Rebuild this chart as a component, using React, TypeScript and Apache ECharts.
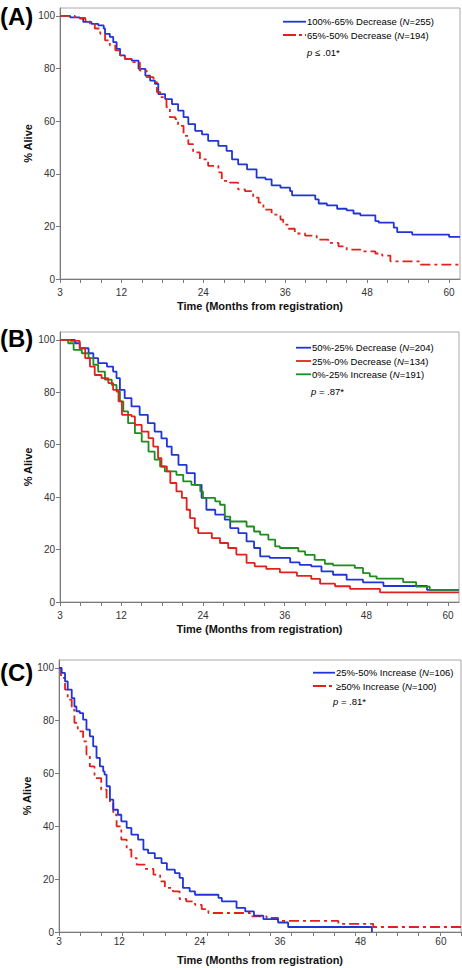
import React, { useEffect, useRef } from "react";
import * as echarts from "echarts";

// ---------- DATA ----------
const xTickLabels = [3, 12, 24, 36, 48, 60];
const yTickLabels = [0, 20, 40, 60, 80, 100];

// Panel A
const aBlue: number[][] = [[3,100],[4.5,99.4],[5.9,99],[6.4,97.7],[7.6,97],[8.6,96.4],[9.4,95.2],[9.6,93.2],[10.3,92],[10.8,90],[11.3,87.5],[11.8,85],[12.5,83.7],[13.5,83],[14.5,79.9],[15.5,77.3],[16.2,75.4],[16.9,74.2],[17.4,70.3],[18.4,68.4],[19.4,66.5],[20.3,64],[21.1,61.5],[21.8,58.9],[22.8,56.3],[23.8,55],[24.7,52.5],[26.2,50.6],[27.4,48.7],[28.2,45.5],[29.1,43.6],[30.4,41.7],[31.8,38.5],[33.1,37.9],[34,35.6],[35.3,34.7],[36.7,33.4],[37,31.8],[40.4,30.3],[40.9,28.7],[42.1,28],[43.6,26.7],[45,26.1],[46,24.9],[47,24.2],[49.2,22],[49.7,21.4],[51.9,19.5],[52.4,17.8],[54.6,16.9],[60,16],[61.6,16]];
const aRed: number[][] = [[3,100],[5.2,99.2],[6.7,98.3],[7.4,97],[8.1,95.2],[8.9,93.2],[9.6,90.7],[10.3,88.8],[11.1,86.9],[11.8,85],[12.5,83.7],[13.7,82.4],[14.7,79.2],[15.7,76.7],[16.7,74.8],[17.2,71],[17.7,69.1],[18.6,65.3],[19.1,61.5],[19.9,60.8],[20.3,58.2],[21.1,54.4],[21.8,51.3],[22.5,48.1],[23.5,45.5],[24.7,43],[26.2,40.5],[26.7,37.3],[27.9,36.6],[29.1,34.1],[30.1,33.4],[31.3,30.9],[32.1,29],[32.8,26.4],[34,24.5],[35.3,22.6],[35.7,20.7],[36.5,19.1],[37.4,17.3],[38.9,16.5],[40.6,15],[42.3,13.7],[43.8,12.4],[45,11.2],[47,10.5],[49.2,9.7],[50.2,8.9],[51.4,6.7],[55.8,5.5],[61.6,5.3]];

// Panel B
const bBlue: number[][] = [[3,100],[5.2,98.7],[5.9,96.8],[7.2,94.9],[7.9,93],[8.6,91.1],[9.9,89.8],[10.8,87.9],[11.3,85.4],[11.8,80.9],[12.5,77.8],[13.5,74.6],[14.7,71.4],[15.9,68.2],[16.9,65],[17.9,62.4],[18.7,59.3],[19.4,56.1],[20.4,52.3],[21.6,49.2],[22.8,44.7],[23.8,39.7],[24.5,35.2],[25.8,33.3],[27.2,31.4],[28,28.2],[29.2,26.3],[30.4,23.1],[31.5,20.6],[32.4,17.4],[33.8,16.8],[36.8,15.1],[38.2,14.2],[39.9,13.6],[41.4,11.7],[43.1,10.4],[45.1,8.5],[47.5,7.5],[50.5,6.1],[56.9,4.6],[61.6,4.6]];
const bRed: number[][] = [[3,100],[4.5,99.6],[5.9,96.8],[6.7,93],[7.4,89.8],[8.1,86.6],[9.1,85.4],[10.1,83.5],[10.8,80.9],[11.6,76.5],[12.1,71.4],[13.5,70.8],[14,67.6],[15,65],[16,62.5],[16.7,59.3],[17.4,54.9],[17.9,51.7],[18.7,49.8],[19.2,45.4],[20.1,42.2],[20.9,39.7],[21.6,35.2],[22.1,32],[22.8,28.2],[23.3,26.3],[25.3,24.4],[26.5,22.5],[27.7,20.6],[28.9,18.1],[30.4,14.9],[31.6,13.6],[33.3,12.6],[35.3,11.3],[37.8,10],[39.9,8.8],[41.2,7],[43.4,6],[45.6,5],[50,3.7],[61.6,3.7]];
const bGreen: number[][] = [[3,100],[4.2,98.7],[5,96.2],[6.2,94.9],[7.2,93],[7.9,90.5],[8.6,87.9],[9.6,84.8],[10.6,82.8],[11.3,80.3],[11.8,76.5],[12.3,72.7],[13,68.2],[14,64.4],[15,61.2],[16,57.4],[16.9,54.3],[17.7,51.7],[18.4,49.8],[20.1,48.5],[21.1,46],[22.3,44.7],[23.6,42.2],[24,39.7],[25.8,38.4],[26.5,37.1],[27.2,32.6],[28,30.7],[30.4,28.8],[31.5,26.9],[32.4,25.7],[33.6,23.8],[34.6,21.2],[35.3,20.6],[38,19.3],[39,18],[40.4,16.1],[41.9,14.6],[43.1,14],[46.3,13],[47.5,11],[48.5,9.8],[49.5,8.9],[53.4,7.6],[55.3,5.9],[57.3,4.6],[61.6,4.6]];

// Panel C
const cBlue: number[][] = [[3,100],[3.4,98.1],[3.9,94.9],[4.3,91.8],[4.9,88.6],[5.3,85.4],[5.6,83.6],[6.1,82.9],[6.6,80.4],[7.1,76.6],[7.6,74.1],[8.1,70.3],[8.6,65.9],[9.1,62.7],[9.6,60.8],[9.8,59.6],[10.1,55.2],[10.6,50.1],[11.1,46.3],[11.8,44.4],[12.3,41.9],[13.1,39.4],[13.8,36.9],[14.8,35],[15.6,31.2],[16.3,29.9],[17.3,28],[18.3,26.1],[19.1,23.6],[20.3,22.3],[21,20.5],[21.5,16.7],[22.5,15.4],[23.3,14.1],[26.8,12.9],[27.3,11.6],[29.5,9.1],[30.8,7.8],[32.1,6.2],[33.5,4.9],[35.7,3.6],[37.2,1.9],[49.7,0]];
const cRed: number[][] = [[3,100],[3.3,96.2],[3.9,91.8],[4.3,88],[4.9,84.2],[5.3,79.2],[5.8,76],[6.6,72.2],[7.1,67.2],[7.6,62.7],[8.3,58.3],[9.3,53.9],[10.1,50.1],[10.6,48.9],[11.1,44.4],[11.6,40],[12.3,35],[13.1,31.2],[13.8,28],[14.6,25.5],[15.8,23.9],[17.1,21.7],[18.1,19.2],[18.8,16.7],[20,15.4],[21,12.5],[22,11.6],[23.3,10.3],[24.3,8.7],[25.3,7.2],[31.5,5.9],[34,5.3],[35.7,4.2],[44.7,3.1],[49.9,1.9],[63,1.9]];

const legendA = [["100%-65% Decrease (", "=255)"], ["65%-50% Decrease (", "=194)"]];
const legendB = [["50%-25% Decrease (", "=204)"], ["25%-0% Decrease (", "=134)"], ["0%-25% Increase (", "=191)"]];
const legendC = [["25%-50% Increase (", "=106)"], ["\u226550% Increase (", "=100)"]];
const pTexts = [" \u2264 .01*", " = .87*", " = .81*"];
const panelLetters = ["(A)", "(B)", "(C)"];
const xTitle = "Time (Months from registration)";
const yTitle = "% Alive";

// ---------- STYLE ----------
const FONT = "'Liberation Sans', Arial, Helvetica, sans-serif";
const BLUE = "#1f35d8";
const RED = "#e3211c";
const GREEN = "#1e8c1e";
const DASH = [10, 4, 3, 4];
const AXIS_COLOR = "#7a7a7a";
const LABEL_COLOR = "#333";

export default function App() {
  const ref = useRef<HTMLDivElement>(null);

  useEffect(() => {
    document.body.style.margin = "0";
    const chart = echarts.init(ref.current!, null, { renderer: "svg" });

    const grids = [
      { left: 60, top: 8, width: 400, height: 271 },
      { left: 60, top: 332, width: 399, height: 270 },
      { left: 59, top: 660, width: 402, height: 272 },
    ].map((g) => ({ ...g, show: true, borderColor: "#a8a8a8", borderWidth: 1, backgroundColor: "transparent" }));

    const xFmt = (v: number) => (xTickLabels.includes(Math.round(v * 1000) / 1000) ? String(v) : "");
    const yFmt = (v: number) => (yTickLabels.includes(v) ? String(v) : "");

    const mkX = (gi: number, max: number, ticks: boolean, margin: number, gap: number) => ({
      type: "value",
      gridIndex: gi,
      min: 3,
      max,
      interval: 3,
      axisLine: { show: true, onZero: false, lineStyle: { color: AXIS_COLOR, width: 1 } },
      axisTick: { show: ticks, length: 4, lineStyle: { color: AXIS_COLOR } },
      axisLabel: { formatter: xFmt, fontSize: 10, color: LABEL_COLOR, fontFamily: FONT, margin, showMaxLabel: false, showMinLabel: true },
      splitLine: { show: false },
      name: xTitle,
      nameLocation: "middle",
      nameGap: gap,
      nameMoveOverlap: false,
      nameTextStyle: { fontSize: 11, fontWeight: "bold", color: "#111", fontFamily: FONT },
    });

    const mkY = (gi: number) => ({
      type: "value",
      gridIndex: gi,
      min: 0,
      max: 103,
      interval: 20,
      axisLine: { show: true, lineStyle: { color: AXIS_COLOR, width: 1 } },
      axisTick: { show: true, length: 4, lineStyle: { color: AXIS_COLOR } },
      axisLabel: { formatter: yFmt, fontSize: 10, color: LABEL_COLOR, fontFamily: FONT, margin: 5, showMaxLabel: false },
      splitLine: { show: false },
      name: yTitle,
      nameLocation: "middle",
      nameGap: 27,
      nameMoveOverlap: false,
      nameTextStyle: { fontSize: 11, fontWeight: "bold", color: "#111", fontFamily: FONT },
    });

    const xAxes: any[] = [mkX(0, 61.6, true, 8, 21), mkX(1, 61.6, true, 8, 21), mkX(2, 63, false, 4, 22)];
    // tick-only axis for panel C (its ticks are spaced independently of its labels)
    xAxes.push({
      type: "value",
      gridIndex: 2,
      position: "bottom",
      min: 0,
      max: 19,
      interval: 1,
      axisLine: { show: false },
      axisTick: { show: true, length: 4, lineStyle: { color: AXIS_COLOR } },
      axisLabel: { show: false },
      splitLine: { show: false },
    });

    const line = (name: string, data: number[][], xi: number, yi: number, color: string, dashed: boolean) => ({
      type: "line",
      name,
      data,
      xAxisIndex: xi,
      yAxisIndex: yi,
      step: "end",
      showSymbol: false,
      symbol: "none",
      lineStyle: { color, width: 1.8, type: dashed ? DASH : "solid" },
      z: 3,
    });

    const series = [
      line("A blue", aBlue, 0, 0, BLUE, false),
      line("A red", aRed, 0, 0, RED, true),
      line("B blue", bBlue, 1, 1, BLUE, false),
      line("B green", bGreen, 1, 1, GREEN, false),
      line("B red", bRed, 1, 1, RED, false),
      line("C red", cRed, 2, 2, RED, true),
      line("C blue", cBlue, 2, 2, BLUE, false),
    ];

    const rich = {
      a: { fontSize: 9.5, fontFamily: FONT, color: "#222" },
      i: { fontSize: 9.5, fontFamily: FONT, color: "#222", fontStyle: "italic" },
    };

    const legendItems = (
      items: string[][],
      colors: string[],
      dashes: boolean[],
      x1: number,
      x2: number,
      ys: number[],
      tx: number,
      p: string,
      px: number,
      py: number
    ) => {
      const els: any[] = [];
      items.forEach((it, k) => {
        els.push({
          type: "line",
          shape: { x1, y1: ys[k], x2, y2: ys[k] },
          style: { stroke: colors[k], lineWidth: 1.8, lineDash: dashes[k] ? [13, 3, 3, 3] : null },
          silent: true,
        });
        els.push({
          type: "text",
          x: tx,
          y: ys[k],
          style: { text: `{a|${it[0]}}{i|N}{a|${it[1]}}`, rich, verticalAlign: "middle", align: "left" },
          silent: true,
        });
      });
      els.push({
        type: "text",
        x: px,
        y: py,
        style: { text: `{i|p}{a|${p}}`, rich, verticalAlign: "middle", align: "left" },
        silent: true,
      });
      return els;
    };

    const graphic: any[] = [
      ...legendItems(legendA, [BLUE, RED], [false, true], 283, 306, [21.7, 35], 307, pTexts[0], 307, 52),
      ...legendItems(legendB, [BLUE, RED, GREEN], [false, false, false], 296, 311, [347.7, 361, 374.3], 312, pTexts[1], 311, 391),
      ...legendItems(legendC, [BLUE, RED], [false, true], 313, 335, [672.7, 686], 336, pTexts[2], 333, 701.7),
    ];
    [16, 338, 672].forEach((y, k) => {
      graphic.push({
        type: "text",
        x: 0,
        y,
        style: { text: panelLetters[k], fontSize: 24, fontWeight: "bold", fontFamily: FONT, fill: "#000", verticalAlign: "middle", align: "left" },
        silent: true,
      });
    });

    chart.setOption({
      animation: false,
      backgroundColor: "#fff",
      grid: grids,
      xAxis: xAxes,
      yAxis: [mkY(0), mkY(1), mkY(2)],
      series,
      graphic,
    });

    return () => chart.dispose();
  }, []);

  return <div ref={ref} style={{ position: "absolute", left: 0, top: 0, width: 462, height: 968 }} />;
}
